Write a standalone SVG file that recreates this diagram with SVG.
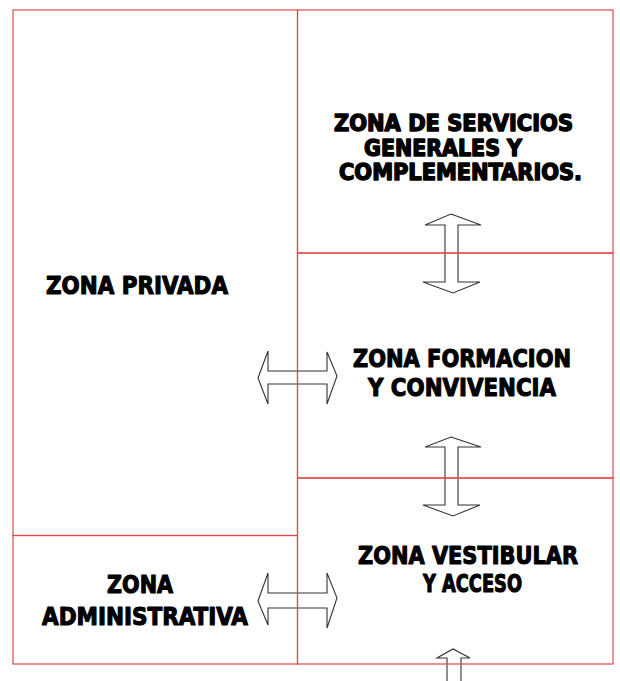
<svg xmlns="http://www.w3.org/2000/svg" width="620" height="681" viewBox="0 0 620 681">
<style>
.wall{stroke:#e8474a;stroke-width:1.2;fill:none}
.arr{fill:#fff;stroke:#333;stroke-width:1.1;stroke-linejoin:miter}
.lbl{font-family:"DejaVu Sans Condensed","DejaVu Sans",sans-serif;font-stretch:condensed;font-weight:bold;font-size:25.5px;fill:#000;stroke:#000;stroke-width:1.1;stroke-linejoin:round}
.tight{font-size:23px;stroke-width:1.4}
</style>
<rect width="620" height="681" fill="#fff"/>
<g id="connectors">
<path class="arr" d="M258,378 L268,351 L268,371 L327,371 L327,352 L337,376 L327,404 L327,384 L268,384 L268,404 Z"/>
<path class="arr" d="M258,601 L268,573 L268,593 L327,593 L327,573 L337,598 L327,628 L327,608 L268,608 L268,625 Z"/>
<path class="arr" d="M451,214 L481,225 L458,225 L458,282 L480,282 L453,293 L423,282 L445,282 L445,225 L425,225 Z"/>
<path class="arr" d="M451,437 L481,447 L458,447 L458,505 L480,505 L453,516 L423,505 L445,505 L445,447 L425,447 Z"/>
<path class="arr" d="M447,682 L447,658 L437,658 L453,649 L470,658 L461,658 L461,682"/>
</g>
<g id="zona-privada">
<rect class="wall" x="13" y="10" width="284.5" height="525.5"/>
<text class="lbl" x="46" y="294" textLength="182" lengthAdjust="spacingAndGlyphs">ZONA PRIVADA</text>
</g>
<g id="zona-administrativa">
<rect class="wall" x="13" y="535.5" width="284.5" height="128.5"/>
<text class="lbl" x="107" y="593" textLength="66" lengthAdjust="spacingAndGlyphs">ZONA</text>
<text class="lbl" x="42" y="625" textLength="206" lengthAdjust="spacingAndGlyphs">ADMINISTRATIVA</text>
</g>
<g id="zona-servicios">
<rect class="wall" x="297.5" y="10" width="315.5" height="243"/>
<text class="lbl tight" x="334" y="131" textLength="239" lengthAdjust="spacingAndGlyphs">ZONA DE SERVICIOS</text>
<text class="lbl tight" x="364" y="156" textLength="158" lengthAdjust="spacingAndGlyphs">GENERALES Y</text>
<text class="lbl tight" x="339" y="180" textLength="243" lengthAdjust="spacingAndGlyphs">COMPLEMENTARIOS.</text>
</g>
<g id="zona-formacion">
<rect class="wall" x="297.5" y="253" width="315.5" height="225"/>
<text class="lbl" x="353" y="367" textLength="218" lengthAdjust="spacingAndGlyphs">ZONA FORMACION</text>
<text class="lbl" x="368" y="396" textLength="188" lengthAdjust="spacingAndGlyphs">Y CONVIVENCIA</text>
</g>
<g id="zona-vestibular">
<rect class="wall" x="297.5" y="478" width="315.5" height="186"/>
<text class="lbl" x="358" y="564" textLength="220" lengthAdjust="spacingAndGlyphs">ZONA VESTIBULAR</text>
<text class="lbl" x="423" y="592" textLength="99" lengthAdjust="spacingAndGlyphs">Y ACCESO</text>
</g>
</svg>
